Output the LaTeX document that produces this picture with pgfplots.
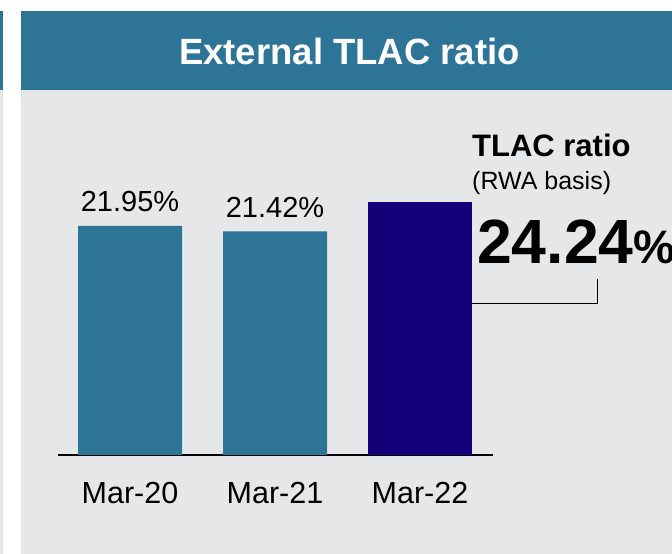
\documentclass[border=0pt]{standalone}
\usepackage{pgfplots}
\pgfplotsset{compat=1.18}
\usepackage{fontspec}
\setmainfont{Liberation Sans}
\definecolor{tealc}{HTML}{2D7496}
\definecolor{navyc}{HTML}{140078}
\definecolor{bgc}{HTML}{E6E7E9}
\begin{document}
\begin{tikzpicture}[x=1pt,y=1pt]
\path[use as bounding box] (0,0) rectangle (672,554);
\clip (0,0) rectangle (672,554);
\fill[white] (0,0) rectangle (672,554);
\fill[tealc] (0,543) rectangle (3,464);
\fill[bgc] (0,0) rectangle (3,464);
\fill[tealc] (21,543) rectangle (672,464);
\fill[bgc] (21,0) rectangle (672,464);
\node[anchor=base, inner sep=0pt, text=white, font=\fontsize{36.5}{37}\selectfont\bfseries] at (349.5,489.7) {External TLAC ratio};
\begin{axis}[
  at={(57.5pt,99pt)}, anchor=south west,
  scale only axis, width=435pt, height=261pt,
  xmin=-0.5, xmax=2.5, ymin=0, ymax=25,
  axis x line=bottom, axis y line=none,
  x axis line style={black, line width=2.4pt, -},
  xtick={0,1,2}, xticklabels={Mar-20,Mar-21,Mar-22},
  major tick length=0pt,
  xticklabel style={anchor=base, inner sep=0pt, yshift=-48.3pt, font=\fontsize{30.5}{30.5}\selectfont},
  ybar, bar width=104pt,
  clip=false,
]
\addplot[fill=tealc, draw=none, bar shift=0pt,
  point meta=explicit symbolic,
  nodes near coords,
  nodes near coords style={anchor=base, inner sep=0pt, yshift=14.3pt, font=\fontsize{29}{29}\selectfont, text=black}]
  coordinates {(0,21.95) [21.95\%] (1,21.42) [21.42\%]};
\addplot[fill=navyc, draw=none, bar shift=0pt] coordinates {(2,24.24)};
\end{axis}
\node[anchor=base west, inner sep=0pt, font=\fontsize{31}{31}\selectfont\bfseries] at (472,397.3) {TLAC ratio};
\node[anchor=base west, inner sep=0pt, font=\fontsize{25}{25}\selectfont] at (472,364.5) {(RWA basis)};
\node[anchor=base west, inner sep=0pt, font=\bfseries] at (477,290.7) {{\fontsize{62.5}{62.5}\selectfont 24.24}{\fontsize{47}{47}\selectfont\%}};
\draw[black, line width=1.5pt] (470,250.7) -- (597.7,250.7) -- (597.7,275);
\end{tikzpicture}
\end{document}
